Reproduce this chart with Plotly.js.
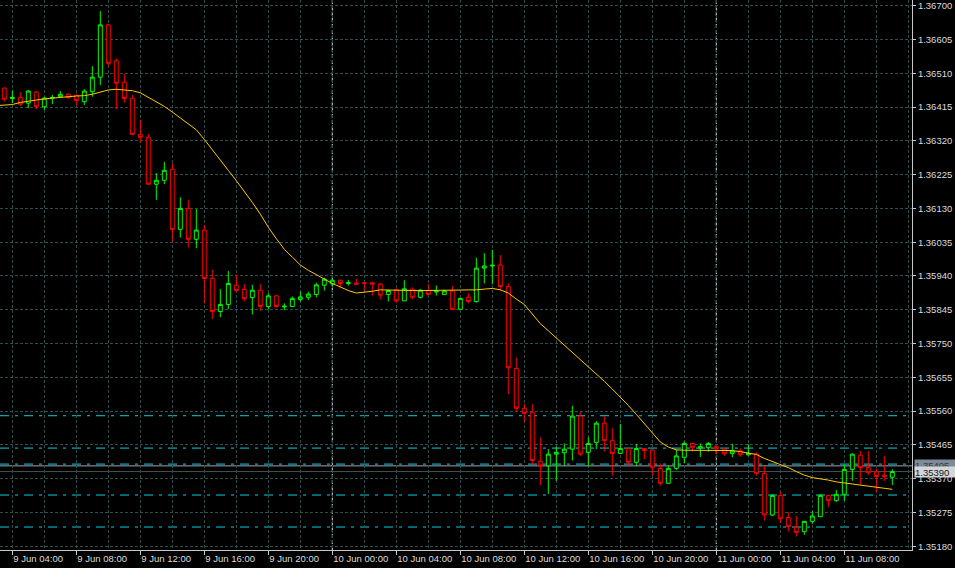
<!DOCTYPE html>
<html>
<head>
<meta charset="utf-8">
<script src="https://cdn.plot.ly/plotly-3.0.1.min.js"></script>
<style>html,body{margin:0;padding:0;background:#000;}#chart{width:955px;height:568px;}</style>
</head>
<body>
<div id="chart"></div>
<script>
const times = [
'2015-06-09 03:30','2015-06-09 04:00','2015-06-09 04:30','2015-06-09 05:00','2015-06-09 05:30','2015-06-09 06:00','2015-06-09 06:30','2015-06-09 07:00','2015-06-09 07:30','2015-06-09 08:00',
'2015-06-09 08:30','2015-06-09 09:00','2015-06-09 09:30','2015-06-09 10:00','2015-06-09 10:30','2015-06-09 11:00','2015-06-09 11:30','2015-06-09 12:00','2015-06-09 12:30','2015-06-09 13:00',
'2015-06-09 13:30','2015-06-09 14:00','2015-06-09 14:30','2015-06-09 15:00','2015-06-09 15:30','2015-06-09 16:00','2015-06-09 16:30','2015-06-09 17:00','2015-06-09 17:30','2015-06-09 18:00',
'2015-06-09 18:30','2015-06-09 19:00','2015-06-09 19:30','2015-06-09 20:00','2015-06-09 20:30','2015-06-09 21:00','2015-06-09 21:30','2015-06-09 22:00','2015-06-09 22:30','2015-06-09 23:00',
'2015-06-09 23:30',
'2015-06-10 00:00','2015-06-10 00:30','2015-06-10 01:00','2015-06-10 01:30','2015-06-10 02:00','2015-06-10 02:30','2015-06-10 03:00','2015-06-10 03:30','2015-06-10 04:00','2015-06-10 04:30',
'2015-06-10 05:00','2015-06-10 05:30','2015-06-10 06:00','2015-06-10 06:30','2015-06-10 07:00','2015-06-10 07:30','2015-06-10 08:00','2015-06-10 08:30','2015-06-10 09:00','2015-06-10 09:30',
'2015-06-10 10:00','2015-06-10 10:30','2015-06-10 11:00','2015-06-10 11:30','2015-06-10 12:00','2015-06-10 12:30','2015-06-10 13:00','2015-06-10 13:30','2015-06-10 14:00','2015-06-10 14:30',
'2015-06-10 15:00','2015-06-10 15:30','2015-06-10 16:00','2015-06-10 16:30','2015-06-10 17:00','2015-06-10 17:30','2015-06-10 18:00','2015-06-10 18:30','2015-06-10 19:00','2015-06-10 19:30',
'2015-06-10 20:00','2015-06-10 20:30','2015-06-10 21:00','2015-06-10 21:30','2015-06-10 22:00','2015-06-10 22:30','2015-06-10 23:00','2015-06-10 23:30',
'2015-06-11 00:00','2015-06-11 00:30','2015-06-11 01:00','2015-06-11 01:30','2015-06-11 02:00','2015-06-11 02:30','2015-06-11 03:00','2015-06-11 03:30','2015-06-11 04:00','2015-06-11 04:30',
'2015-06-11 05:00','2015-06-11 05:30','2015-06-11 06:00','2015-06-11 06:30','2015-06-11 07:00','2015-06-11 07:30','2015-06-11 08:00','2015-06-11 08:30','2015-06-11 09:00','2015-06-11 09:30',
'2015-06-11 10:00','2015-06-11 10:30','2015-06-11 11:00'
];

const open = [
1.36468,1.36439,1.36442,1.36426,1.36457,1.36416,1.36440,1.36444,1.36451,1.36448,
1.36430,1.36458,1.36499,1.36646,1.36545,1.36485,1.36440,1.36338,1.36330,1.36198,
1.36209,1.36240,1.36071,1.36130,1.36043,1.36069,1.35933,1.35840,1.35860,1.35914,
1.35902,1.35879,1.35900,1.35854,1.35884,1.35853,1.35854,1.35874,1.35880,1.35888,
1.35914,1.35918,1.35928,1.35919,1.35920,1.35921,1.35921,1.35917,1.35888,1.35901,
1.35870,1.35903,1.35880,1.35899,1.35895,1.35888,1.35898,1.35846,1.35880,1.35868,
1.35962,1.35968,1.35971,1.35910,1.35680,1.35568,1.35557,1.35419,1.35406,1.35439,
1.35443,1.35453,1.35546,1.35444,1.35472,1.35526,1.35477,1.35441,1.35455,1.35416,
1.35455,1.35451,1.35399,1.35357,1.35399,1.35430,1.35469,1.35456,1.35457,1.35460,
1.35453,1.35441,1.35448,1.35437,1.35439,1.35385,1.35268,1.35323,1.35261,1.35233,
1.35221,1.35250,1.35263,1.35323,1.35308,1.35326,1.35396,1.35436,1.35401,1.35389,
1.35380,1.35374
];
const high = [
1.36471,1.36461,1.36457,1.36463,1.36460,1.36444,1.36449,1.36460,1.36453,1.36451,
1.36465,1.36530,1.36685,1.36649,1.36552,1.36509,1.36449,1.36379,1.36339,1.36229,
1.36261,1.36257,1.36161,1.36154,1.36128,1.36083,1.35957,1.35903,1.35954,1.35943,
1.35917,1.35915,1.35917,1.35891,1.35887,1.35863,1.35882,1.35896,1.35896,1.35921,
1.35935,1.35931,1.35929,1.35929,1.35932,1.35922,1.35924,1.35921,1.35900,1.35905,
1.35928,1.35908,1.35903,1.35917,1.35913,1.35901,1.35912,1.35878,1.35891,1.35991,
1.36004,1.36013,1.35999,1.35919,1.35711,1.35580,1.35580,1.35486,1.35453,1.35460,
1.35469,1.35575,1.35557,1.35486,1.35532,1.35546,1.35512,1.35524,1.35456,1.35468,
1.35456,1.35452,1.35413,1.35406,1.35451,1.35474,1.35470,1.35469,1.35473,1.35463,
1.35458,1.35468,1.35456,1.35467,1.35444,1.35406,1.35326,1.35333,1.35276,1.35265,
1.35251,1.35279,1.35326,1.35324,1.35338,1.35410,1.35441,1.35448,1.35448,1.35398,
1.35434,1.35396
];
const low = [
1.36430,1.36426,1.36418,1.36412,1.36409,1.36407,1.36423,1.36442,1.36438,1.36419,
1.36421,1.36444,1.36477,1.36530,1.36409,1.36427,1.36337,1.36315,1.36196,1.36154,
1.36198,1.36036,1.36048,1.36020,1.36018,1.35863,1.35819,1.35824,1.35847,1.35896,
1.35868,1.35832,1.35842,1.35846,1.35851,1.35844,1.35853,1.35868,1.35872,1.35880,
1.35899,1.35910,1.35905,1.35913,1.35916,1.35898,1.35885,1.35874,1.35868,1.35865,
1.35869,1.35874,1.35877,1.35886,1.35885,1.35887,1.35845,1.35845,1.35863,1.35865,
1.35919,1.35917,1.35899,1.35608,1.35558,1.35530,1.35411,1.35352,1.35327,1.35364,
1.35406,1.35421,1.35434,1.35404,1.35453,1.35446,1.35378,1.35440,1.35406,1.35406,
1.35425,1.35378,1.35350,1.35356,1.35394,1.35413,1.35446,1.35431,1.35446,1.35439,
1.35434,1.35430,1.35432,1.35435,1.35378,1.35252,1.35265,1.35245,1.35221,1.35207,
1.35212,1.35243,1.35262,1.35290,1.35305,1.35308,1.35364,1.35354,1.35380,1.35333,
1.35363,1.35352
];
const close = [
1.36437,1.36442,1.36423,1.36460,1.36416,1.36440,1.36442,1.36451,1.36442,1.36433,
1.36460,1.36499,1.36646,1.36538,1.36482,1.36439,1.36338,1.36330,1.36198,1.36209,
1.36237,1.36071,1.36130,1.36043,1.36069,1.35933,1.35840,1.35860,1.35919,1.35899,
1.35876,1.35900,1.35854,1.35884,1.35854,1.35855,1.35877,1.35881,1.35889,1.35915,
1.35931,1.35928,1.35919,1.35921,1.35917,1.35920,1.35917,1.35886,1.35899,1.35870,
1.35904,1.35880,1.35900,1.35888,1.35898,1.35898,1.35846,1.35877,1.35868,1.35962,
1.35968,1.35970,1.35910,1.35682,1.35568,1.35554,1.35421,1.35406,1.35439,1.35444,
1.35453,1.35546,1.35439,1.35469,1.35526,1.35477,1.35441,1.35455,1.35416,1.35455,
1.35449,1.35402,1.35357,1.35399,1.35434,1.35469,1.35458,1.35460,1.35469,1.35454,
1.35440,1.35448,1.35437,1.35441,1.35385,1.35268,1.35323,1.35257,1.35235,1.35219,
1.35250,1.35265,1.35323,1.35308,1.35326,1.35396,1.35439,1.35401,1.35387,1.35376,
1.35376,1.35390
];

// moving average line (first point is the bar before the visible window)
const maTimes = ['2015-06-09 03:00'].concat(times);
const maValues = [
1.36419,
1.36421,1.36422,1.36428,1.36432,1.36436,1.36438,1.36440,1.36443,1.36444,1.36446,
1.36447,1.36451,1.36457,1.36463,1.36465,1.36464,1.36461,1.36455,1.36442,1.36431,
1.36417,1.36401,1.36384,1.36369,1.36351,1.36324,1.36296,1.36266,1.36237,1.36208,
1.36178,1.36147,1.36114,1.36077,1.36045,1.36015,1.35993,1.35971,1.35956,1.35943,
1.35931,1.35919,1.35909,1.35899,1.35892,1.35894,1.35897,1.35901,1.35900,1.35899,
1.35899,1.35899,1.35899,1.35899,1.35899,1.35900,1.35901,1.35901,1.35901,1.35901,
1.35903,1.35905,1.35901,1.35892,1.35875,1.35860,1.35833,1.35806,1.35786,1.35766,
1.35745,1.35725,1.35705,1.35685,1.35664,1.35644,1.35622,1.35600,1.35576,1.35551,
1.35525,1.35496,1.35473,1.35459,1.35451,1.35450,1.35450,1.35451,1.35451,1.35451,
1.35450,1.35449,1.35446,1.35443,1.35438,1.35427,1.35418,1.35411,1.35401,1.35390,
1.35380,1.35373,1.35370,1.35366,1.35361,1.35358,1.35356,1.35354,1.35350,1.35346,
1.35344,1.35340
];

const levelPrices = [1.35547, 1.35456, 1.35411, 1.35324, 1.35234];
const askPrice = 1.35406;
const bidPrice = 1.35390;
const askLabel = '1.35405';
const bidLabel = '1.35390';
const separators = ['2015-06-10 00:00', '2015-06-11 00:00'];

const xTickVals = ['2015-06-09 04:00','2015-06-09 08:00','2015-06-09 12:00','2015-06-09 16:00','2015-06-09 20:00',
  '2015-06-10 00:00','2015-06-10 04:00','2015-06-10 08:00','2015-06-10 12:00','2015-06-10 16:00','2015-06-10 20:00',
  '2015-06-11 00:00','2015-06-11 04:00','2015-06-11 08:00'];
const xTickText = ['9 Jun 04:00','9 Jun 08:00','9 Jun 12:00','9 Jun 16:00','9 Jun 20:00',
  '10 Jun 00:00','10 Jun 04:00','10 Jun 08:00','10 Jun 12:00','10 Jun 16:00','10 Jun 20:00',
  '11 Jun 00:00','11 Jun 04:00','11 Jun 08:00'];
const yTickVals = [1.35180,1.35275,1.35370,1.35465,1.35560,1.35655,1.35750,1.35845,1.35940,
  1.36035,1.36130,1.36225,1.36320,1.36415,1.36510,1.36605,1.36700];
const yTickText = yTickVals.map(v => v.toFixed(5));

const FONT = 'Liberation Sans, Arial, sans-serif';
const GRID = '#2f4f4f';

const traces = [
  {
    type: 'candlestick', x: times, open: open, high: high, low: low, close: close,
    increasing: {line: {color: '#00ff00', width: 1}, fillcolor: '#000000'},
    decreasing: {line: {color: '#ff0000', width: 1}, fillcolor: '#000000'},
    whiskerwidth: 0, hoverinfo: 'skip', showlegend: false
  },
  {
    type: 'scatter', mode: 'lines', x: maTimes, y: maValues,
    line: {color: '#ffc800', width: 1}, hoverinfo: 'skip', showlegend: false
  }
];

const shapes = [];
levelPrices.forEach(p => shapes.push({
  type: 'line', xref: 'paper', x0: 0, x1: 1, yref: 'y', y0: p, y1: p,
  line: {color: '#00d0e0', width: 1, dash: '9px,6px,3px,6px'}, layer: 'between'
}));
shapes.push({type: 'line', xref: 'paper', x0: 0, x1: 1, yref: 'y', y0: askPrice, y1: askPrice,
  line: {color: '#a0a0b4', width: 1}, layer: 'between'});
shapes.push({type: 'line', xref: 'paper', x0: 0, x1: 1, yref: 'y', y0: bidPrice, y1: bidPrice,
  line: {color: '#3e5656', width: 1}, layer: 'between'});
separators.forEach(t => shapes.push({
  type: 'line', xref: 'x', x0: t, x1: t, yref: 'paper', y0: 0, y1: 1,
  line: {color: '#d8d8d8', width: 1, dash: '4px,2px'}, layer: 'between'
}));

const annotations = [
  {xref: 'paper', x: 1, xanchor: 'left', xshift: 2, yref: 'y', y: askPrice, yanchor: 'middle', yshift: 1,
   text: askLabel, showarrow: false, bgcolor: '#7d8b99', borderpad: 0, width: 41, height: 10, align: 'left',
   font: {family: FONT, size: 9.5, color: '#2a3848'}},
  {xref: 'paper', x: 1, xanchor: 'left', xshift: 2, yref: 'y', y: bidPrice, yanchor: 'middle',
   text: bidLabel, showarrow: false, bgcolor: '#d6d6d6', borderpad: 0, width: 41, height: 10, align: 'left',
   font: {family: FONT, size: 9.5, color: '#102030'}}
];

const layout = {
  width: 955, height: 568,
  margin: {l: 0, r: 43, t: 0, b: 18, pad: 0},
  paper_bgcolor: '#000000', plot_bgcolor: '#000000',
  showlegend: false,
  xaxis: {
    type: 'date',
    range: ['2015-06-09 03:13:52.5', '2015-06-11 12:13:52.5'],
    tickmode: 'array', tickvals: xTickVals, ticktext: xTickText,
    ticks: 'outside', ticklen: 4, tickcolor: '#c8c8c8', tickwidth: 1,
    ticklabelposition: 'outside right',
    showline: true, linecolor: '#c8c8c8', linewidth: 1,
    showgrid: true, gridcolor: GRID, gridwidth: 1, griddash: '3px,2px',
    minor: {tickmode: 'linear', tick0: '2015-06-09 04:00', dtick: 7200000, showgrid: true,
            gridcolor: GRID, gridwidth: 1, griddash: '3px,2px', ticks: ''},
    zeroline: false, rangeslider: {visible: false}, fixedrange: true,
    tickfont: {family: FONT, size: 9.5, color: '#dcdcdc'}
  },
  yaxis: {
    side: 'right', range: [1.351694, 1.36716],
    tickmode: 'array', tickvals: yTickVals, ticktext: yTickText,
    ticks: 'outside', ticklen: 3, tickcolor: '#c8c8c8', tickwidth: 1,
    showline: true, linecolor: '#c8c8c8', linewidth: 1,
    showgrid: true, gridcolor: GRID, gridwidth: 1, griddash: '3px,2px',
    zeroline: false, fixedrange: true,
    tickfont: {family: FONT, size: 9.5, color: '#dcdcdc'}
  },
  shapes: shapes,
  annotations: annotations
};

Plotly.newPlot('chart', traces, layout, {staticPlot: true, displayModeBar: false});
</script>
</body>
</html>
